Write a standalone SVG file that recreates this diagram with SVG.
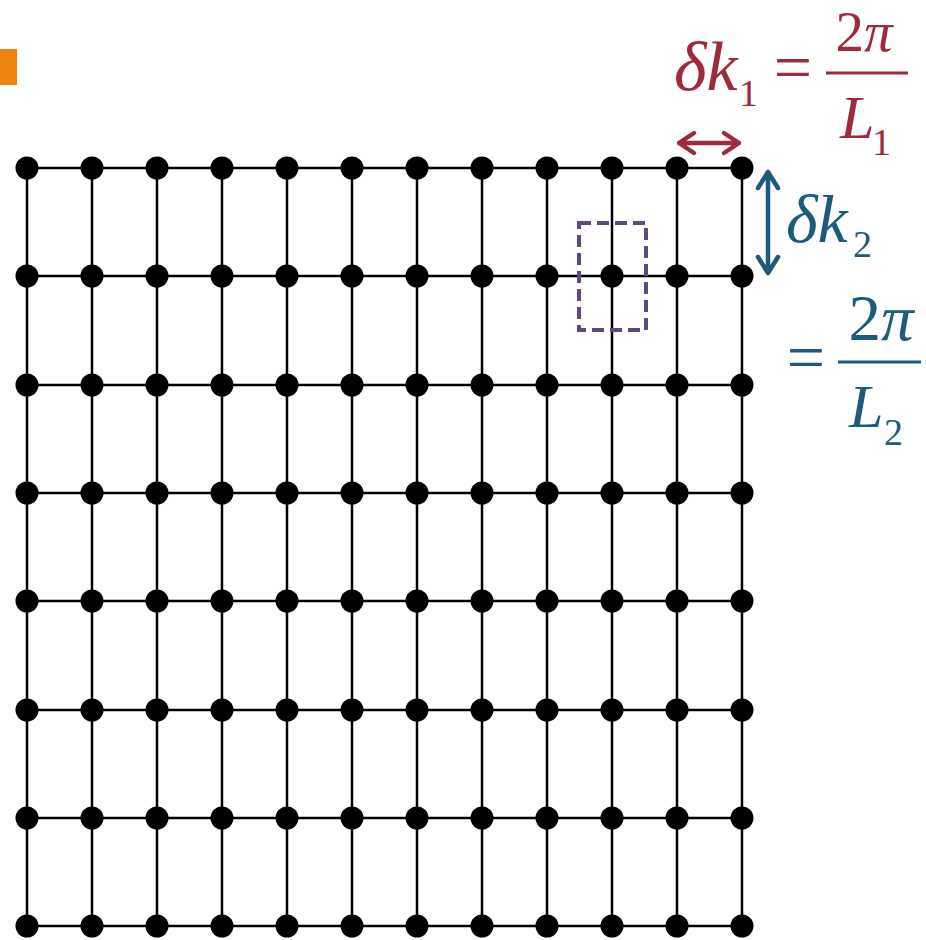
<svg xmlns="http://www.w3.org/2000/svg" width="926" height="940" viewBox="0 0 926 940">
<style>
.ln{stroke:#000;stroke-width:2.5;fill:none}
.nd{fill:#000}
.red{fill:#9E2B3C;font-family:"Liberation Serif","Times New Roman",serif}
.blue{fill:#1D5A7C;font-family:"Liberation Serif","Times New Roman",serif}
.it{font-style:italic}
</style>
<rect x="0" y="49" width="17" height="36" fill="#F0820F"/>
<g id="connectors">
<path class="ln" d="M27,168V926M92,168V926M157,168V926M222,168V926M287,168V926M352,168V926M417,168V926M482,168V926M547,168V926M612,168V926M677,168V926M742,168V926"/>
<path class="ln" d="M27,168H742M27,276H742M27,385H742M27,493H742M27,601H742M27,710H742M27,818H742M27,926H742"/>
</g>
<g id="nodes">
<g id="n0-0"><circle class="nd" cx="27" cy="168" r="11.5"/></g><g id="n0-1"><circle class="nd" cx="92" cy="168" r="11.5"/></g><g id="n0-2"><circle class="nd" cx="157" cy="168" r="11.5"/></g><g id="n0-3"><circle class="nd" cx="222" cy="168" r="11.5"/></g><g id="n0-4"><circle class="nd" cx="287" cy="168" r="11.5"/></g><g id="n0-5"><circle class="nd" cx="352" cy="168" r="11.5"/></g><g id="n0-6"><circle class="nd" cx="417" cy="168" r="11.5"/></g><g id="n0-7"><circle class="nd" cx="482" cy="168" r="11.5"/></g><g id="n0-8"><circle class="nd" cx="547" cy="168" r="11.5"/></g><g id="n0-9"><circle class="nd" cx="612" cy="168" r="11.5"/></g><g id="n0-10"><circle class="nd" cx="677" cy="168" r="11.5"/></g><g id="n0-11"><circle class="nd" cx="742" cy="168" r="11.5"/></g>
<g id="n1-0"><circle class="nd" cx="27" cy="276" r="11.5"/></g><g id="n1-1"><circle class="nd" cx="92" cy="276" r="11.5"/></g><g id="n1-2"><circle class="nd" cx="157" cy="276" r="11.5"/></g><g id="n1-3"><circle class="nd" cx="222" cy="276" r="11.5"/></g><g id="n1-4"><circle class="nd" cx="287" cy="276" r="11.5"/></g><g id="n1-5"><circle class="nd" cx="352" cy="276" r="11.5"/></g><g id="n1-6"><circle class="nd" cx="417" cy="276" r="11.5"/></g><g id="n1-7"><circle class="nd" cx="482" cy="276" r="11.5"/></g><g id="n1-8"><circle class="nd" cx="547" cy="276" r="11.5"/></g><g id="n1-9"><circle class="nd" cx="612" cy="276" r="11.5"/></g><g id="n1-10"><circle class="nd" cx="677" cy="276" r="11.5"/></g><g id="n1-11"><circle class="nd" cx="742" cy="276" r="11.5"/></g>
<g id="n2-0"><circle class="nd" cx="27" cy="385" r="11.5"/></g><g id="n2-1"><circle class="nd" cx="92" cy="385" r="11.5"/></g><g id="n2-2"><circle class="nd" cx="157" cy="385" r="11.5"/></g><g id="n2-3"><circle class="nd" cx="222" cy="385" r="11.5"/></g><g id="n2-4"><circle class="nd" cx="287" cy="385" r="11.5"/></g><g id="n2-5"><circle class="nd" cx="352" cy="385" r="11.5"/></g><g id="n2-6"><circle class="nd" cx="417" cy="385" r="11.5"/></g><g id="n2-7"><circle class="nd" cx="482" cy="385" r="11.5"/></g><g id="n2-8"><circle class="nd" cx="547" cy="385" r="11.5"/></g><g id="n2-9"><circle class="nd" cx="612" cy="385" r="11.5"/></g><g id="n2-10"><circle class="nd" cx="677" cy="385" r="11.5"/></g><g id="n2-11"><circle class="nd" cx="742" cy="385" r="11.5"/></g>
<g id="n3-0"><circle class="nd" cx="27" cy="493" r="11.5"/></g><g id="n3-1"><circle class="nd" cx="92" cy="493" r="11.5"/></g><g id="n3-2"><circle class="nd" cx="157" cy="493" r="11.5"/></g><g id="n3-3"><circle class="nd" cx="222" cy="493" r="11.5"/></g><g id="n3-4"><circle class="nd" cx="287" cy="493" r="11.5"/></g><g id="n3-5"><circle class="nd" cx="352" cy="493" r="11.5"/></g><g id="n3-6"><circle class="nd" cx="417" cy="493" r="11.5"/></g><g id="n3-7"><circle class="nd" cx="482" cy="493" r="11.5"/></g><g id="n3-8"><circle class="nd" cx="547" cy="493" r="11.5"/></g><g id="n3-9"><circle class="nd" cx="612" cy="493" r="11.5"/></g><g id="n3-10"><circle class="nd" cx="677" cy="493" r="11.5"/></g><g id="n3-11"><circle class="nd" cx="742" cy="493" r="11.5"/></g>
<g id="n4-0"><circle class="nd" cx="27" cy="601" r="11.5"/></g><g id="n4-1"><circle class="nd" cx="92" cy="601" r="11.5"/></g><g id="n4-2"><circle class="nd" cx="157" cy="601" r="11.5"/></g><g id="n4-3"><circle class="nd" cx="222" cy="601" r="11.5"/></g><g id="n4-4"><circle class="nd" cx="287" cy="601" r="11.5"/></g><g id="n4-5"><circle class="nd" cx="352" cy="601" r="11.5"/></g><g id="n4-6"><circle class="nd" cx="417" cy="601" r="11.5"/></g><g id="n4-7"><circle class="nd" cx="482" cy="601" r="11.5"/></g><g id="n4-8"><circle class="nd" cx="547" cy="601" r="11.5"/></g><g id="n4-9"><circle class="nd" cx="612" cy="601" r="11.5"/></g><g id="n4-10"><circle class="nd" cx="677" cy="601" r="11.5"/></g><g id="n4-11"><circle class="nd" cx="742" cy="601" r="11.5"/></g>
<g id="n5-0"><circle class="nd" cx="27" cy="710" r="11.5"/></g><g id="n5-1"><circle class="nd" cx="92" cy="710" r="11.5"/></g><g id="n5-2"><circle class="nd" cx="157" cy="710" r="11.5"/></g><g id="n5-3"><circle class="nd" cx="222" cy="710" r="11.5"/></g><g id="n5-4"><circle class="nd" cx="287" cy="710" r="11.5"/></g><g id="n5-5"><circle class="nd" cx="352" cy="710" r="11.5"/></g><g id="n5-6"><circle class="nd" cx="417" cy="710" r="11.5"/></g><g id="n5-7"><circle class="nd" cx="482" cy="710" r="11.5"/></g><g id="n5-8"><circle class="nd" cx="547" cy="710" r="11.5"/></g><g id="n5-9"><circle class="nd" cx="612" cy="710" r="11.5"/></g><g id="n5-10"><circle class="nd" cx="677" cy="710" r="11.5"/></g><g id="n5-11"><circle class="nd" cx="742" cy="710" r="11.5"/></g>
<g id="n6-0"><circle class="nd" cx="27" cy="818" r="11.5"/></g><g id="n6-1"><circle class="nd" cx="92" cy="818" r="11.5"/></g><g id="n6-2"><circle class="nd" cx="157" cy="818" r="11.5"/></g><g id="n6-3"><circle class="nd" cx="222" cy="818" r="11.5"/></g><g id="n6-4"><circle class="nd" cx="287" cy="818" r="11.5"/></g><g id="n6-5"><circle class="nd" cx="352" cy="818" r="11.5"/></g><g id="n6-6"><circle class="nd" cx="417" cy="818" r="11.5"/></g><g id="n6-7"><circle class="nd" cx="482" cy="818" r="11.5"/></g><g id="n6-8"><circle class="nd" cx="547" cy="818" r="11.5"/></g><g id="n6-9"><circle class="nd" cx="612" cy="818" r="11.5"/></g><g id="n6-10"><circle class="nd" cx="677" cy="818" r="11.5"/></g><g id="n6-11"><circle class="nd" cx="742" cy="818" r="11.5"/></g>
<g id="n7-0"><circle class="nd" cx="27" cy="926" r="11.5"/></g><g id="n7-1"><circle class="nd" cx="92" cy="926" r="11.5"/></g><g id="n7-2"><circle class="nd" cx="157" cy="926" r="11.5"/></g><g id="n7-3"><circle class="nd" cx="222" cy="926" r="11.5"/></g><g id="n7-4"><circle class="nd" cx="287" cy="926" r="11.5"/></g><g id="n7-5"><circle class="nd" cx="352" cy="926" r="11.5"/></g><g id="n7-6"><circle class="nd" cx="417" cy="926" r="11.5"/></g><g id="n7-7"><circle class="nd" cx="482" cy="926" r="11.5"/></g><g id="n7-8"><circle class="nd" cx="547" cy="926" r="11.5"/></g><g id="n7-9"><circle class="nd" cx="612" cy="926" r="11.5"/></g><g id="n7-10"><circle class="nd" cx="677" cy="926" r="11.5"/></g><g id="n7-11"><circle class="nd" cx="742" cy="926" r="11.5"/></g>
</g>
<g id="cell-box">
<rect x="579" y="223" width="67" height="107" fill="none" stroke="#5E4A7E" stroke-width="4" stroke-dasharray="12 6"/>
</g>
<g id="arrow-k1">
<path d="M679,143H739M694,133L679,143L694,153M724,133L739,143L724,153" fill="none" stroke="#9E2B3C" stroke-width="4.5" stroke-linecap="round" stroke-linejoin="round"/>
</g>
<g id="arrow-k2">
<path d="M768,172V273M758,188L768,172L778,188M758,257L768,273L778,257" fill="none" stroke="#1D5A7C" stroke-width="4.5" stroke-linecap="round" stroke-linejoin="round"/>
</g>
<g id="label-k1">
<text class="red it" x="674" y="90" font-size="70">δk</text>
<text class="red" x="739" y="106" font-size="38">1</text>
<text class="red" x="793" y="90" font-size="68" text-anchor="middle">=</text>
<line x1="826" y1="73" x2="908" y2="73" stroke="#9E2B3C" stroke-width="3"/>
<text class="red" x="864" y="51" font-size="57" text-anchor="middle">2<tspan class="it">π</tspan></text>
<text class="red it" x="840" y="138" font-size="62">L</text>
<text class="red" x="872" y="155" font-size="38">1</text>
</g>
<g id="label-k2">
<text class="blue it" x="786" y="242" font-size="68">δk</text>
<text class="blue" x="853" y="257" font-size="38">2</text>
<text class="blue" x="806" y="380" font-size="68" text-anchor="middle">=</text>
<line x1="838" y1="362" x2="921" y2="362" stroke="#1D5A7C" stroke-width="3"/>
<text class="blue" x="881" y="340" font-size="65" text-anchor="middle">2<tspan class="it">π</tspan></text>
<text class="blue it" x="849" y="427" font-size="62">L</text>
<text class="blue" x="884" y="445" font-size="38">2</text>
</g>
</svg>
